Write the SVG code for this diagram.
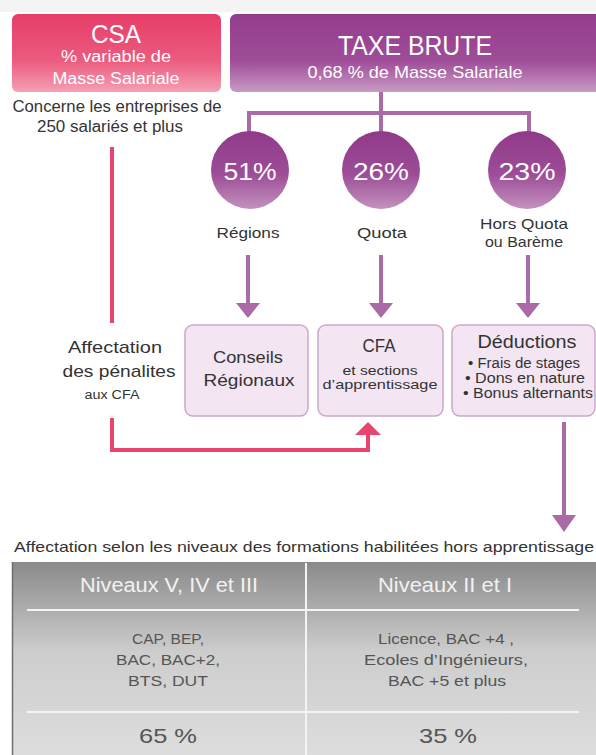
<svg xmlns="http://www.w3.org/2000/svg" width="596" height="755" viewBox="0 0 596 755">
<defs>
<linearGradient id="gCsa" x1="0" y1="0" x2="0" y2="1"><stop offset="0" stop-color="#e63d68"/><stop offset="0.6" stop-color="#ec5b7f"/><stop offset="1" stop-color="#f4a0b4"/></linearGradient>
<linearGradient id="gTaxe" x1="0" y1="0" x2="0" y2="1"><stop offset="0" stop-color="#943c8e"/><stop offset="0.6" stop-color="#9f4d98"/><stop offset="1" stop-color="#c89ac3"/></linearGradient>
<linearGradient id="gCirc" x1="0" y1="0" x2="0" y2="1"><stop offset="0" stop-color="#8f3a89"/><stop offset="0.55" stop-color="#9d4c97"/><stop offset="1" stop-color="#c392be"/></linearGradient>
<linearGradient id="gTable" x1="0" y1="0" x2="0" y2="1"><stop offset="0" stop-color="#8a8a8a"/><stop offset="0.45" stop-color="#cdcdcd"/><stop offset="1" stop-color="#dedede"/></linearGradient>
<marker id="arP" markerWidth="6" markerHeight="4" refX="3" refY="4" orient="auto" markerUnits="userSpaceOnUse"/>
</defs>
<style>
text{font-family:"Liberation Sans","Open Sans",Arial,sans-serif;text-anchor:middle}
.w{fill:#ffffff}
.d{fill:#333333}
.g{fill:#555555}
.box{fill:#f3e5f2;stroke:#cda8ca;stroke-width:1.5}
.lp{stroke:#a96aa6;stroke-width:4;fill:none}
.lr{stroke:#e8456f;stroke-width:4;fill:none}
.hp{fill:#a96aa6}
.hr{fill:#e8456f}
.wl{stroke:#f4f4f4;stroke-width:2}
</style>
<rect x="0" y="0" width="596" height="755" fill="#ffffff"/>
<rect x="0" y="0" width="596" height="12" fill="#f4f4f4"/>

<g id="csa">
<rect x="12" y="14" width="209" height="78" rx="6" fill="url(#gCsa)"/>
<text x="116" y="43" class="w" font-size="25" textLength="50" lengthAdjust="spacingAndGlyphs">CSA</text>
<text x="116" y="62" class="w" font-size="16" textLength="110" lengthAdjust="spacingAndGlyphs">% variable de</text>
<text x="116" y="84" class="w" font-size="16" textLength="127" lengthAdjust="spacingAndGlyphs">Masse Salariale</text>
</g>
<g id="csa-note">
<text x="117" y="112" class="d" font-size="16" textLength="209" lengthAdjust="spacingAndGlyphs">Concerne les entreprises de</text>
<text x="110" y="132" class="d" font-size="16" textLength="146" lengthAdjust="spacingAndGlyphs">250 salariés et plus</text>
</g>

<g id="taxe">
<rect x="230" y="14" width="372" height="78" rx="6" fill="url(#gTaxe)"/>
<text x="415" y="55" class="w" font-size="28" textLength="154" lengthAdjust="spacingAndGlyphs">TAXE BRUTE</text>
<text x="415" y="78" class="w" font-size="17" textLength="215" lengthAdjust="spacingAndGlyphs">0,68 % de Masse Salariale</text>
</g>

<g id="connectors">
<path class="lp" d="M381 92 V113 M249 113 H530 M249 111 V135 M381 113 V135 M529 111 V135"/>
<path class="lp" d="M248 255 V306 M381 255 V306 M528 255 V306"/>
<path class="hp" d="M236 303 H260 L248 318 Z M369 303 H393 L381 318 Z M516 303 H540 L528 318 Z"/>
<path class="lp" d="M564 422 V518"/>
<path class="hp" d="M552 515 H576 L564 532 Z"/>
<path class="lr" d="M112 147 V323 M112 418 V450 H368 V433"/>
<path class="hr" d="M355 435 H381 L368 422 Z"/>
</g>

<g id="c51">
<circle cx="250" cy="170" r="39" fill="url(#gCirc)"/>
<text x="250" y="180" class="w" font-size="24" textLength="53" lengthAdjust="spacingAndGlyphs">51%</text>
<text x="248" y="238" class="d" font-size="15" textLength="63" lengthAdjust="spacingAndGlyphs">Régions</text>
</g>
<g id="c26">
<circle cx="381" cy="170" r="39" fill="url(#gCirc)"/>
<text x="381" y="180" class="w" font-size="24" textLength="56" lengthAdjust="spacingAndGlyphs">26%</text>
<text x="382" y="238" class="d" font-size="15" textLength="50" lengthAdjust="spacingAndGlyphs">Quota</text>
</g>
<g id="c23">
<circle cx="527" cy="170" r="39" fill="url(#gCirc)"/>
<text x="527" y="180" class="w" font-size="24" textLength="57" lengthAdjust="spacingAndGlyphs">23%</text>
<text x="524" y="229" class="d" font-size="15" textLength="88" lengthAdjust="spacingAndGlyphs">Hors Quota</text>
<text x="524" y="247" class="d" font-size="15" textLength="78" lengthAdjust="spacingAndGlyphs">ou Barème</text>
</g>

<g id="penalites">
<text x="115" y="353" class="d" font-size="17" textLength="94" lengthAdjust="spacingAndGlyphs">Affectation</text>
<text x="119" y="377" class="d" font-size="17" textLength="113" lengthAdjust="spacingAndGlyphs">des pénalites</text>
<text x="112" y="399" class="d" font-size="12" textLength="55" lengthAdjust="spacingAndGlyphs">aux CFA</text>
</g>

<g id="conseils">
<rect x="185" y="325" width="123" height="91" rx="8" class="box"/>
<text x="248" y="363" class="d" font-size="17" textLength="70" lengthAdjust="spacingAndGlyphs">Conseils</text>
<text x="249" y="386" class="d" font-size="17" textLength="91" lengthAdjust="spacingAndGlyphs">Régionaux</text>
</g>
<g id="cfa">
<rect x="318" y="325" width="125" height="91" rx="8" class="box"/>
<text x="379" y="352" class="d" font-size="18" textLength="33" lengthAdjust="spacingAndGlyphs">CFA</text>
<text x="380" y="375" class="d" font-size="13" textLength="75" lengthAdjust="spacingAndGlyphs">et sections</text>
<text x="380" y="389" class="d" font-size="13" textLength="115" lengthAdjust="spacingAndGlyphs">d’apprentissage</text>
</g>
<g id="deductions">
<rect x="452" y="325" width="143" height="91" rx="8" class="box"/>
<text x="527" y="348" class="d" font-size="18" textLength="99" lengthAdjust="spacingAndGlyphs">Déductions</text>
<text x="524" y="368" class="d" font-size="14" textLength="112" lengthAdjust="spacingAndGlyphs">• Frais de stages</text>
<text x="525" y="383" class="d" font-size="14" textLength="120" lengthAdjust="spacingAndGlyphs">• Dons en nature</text>
<text x="528" y="398" class="d" font-size="14" textLength="130" lengthAdjust="spacingAndGlyphs">• Bonus alternants</text>
</g>

<g id="table">
<text x="304" y="552" class="d" font-size="15" textLength="580" lengthAdjust="spacingAndGlyphs">Affectation selon les niveaux des formations habilitées hors apprentissage</text>
<rect x="12" y="562" width="590" height="200" fill="url(#gTable)"/>
<line x1="12.5" y1="562" x2="12.5" y2="755" stroke="#6e6e6e" stroke-width="1.5"/>
<line x1="306" y1="563" x2="306" y2="755" class="wl"/>
<line x1="27" y1="610" x2="579" y2="610" class="wl"/>
<line x1="27" y1="712" x2="579" y2="712" class="wl"/>
<text x="169" y="592" fill="#f2f2f2" font-size="20" textLength="178" lengthAdjust="spacingAndGlyphs">Niveaux V, IV et III</text>
<text x="445" y="592" fill="#f2f2f2" font-size="20" textLength="134" lengthAdjust="spacingAndGlyphs">Niveaux II et I</text>
<text x="168" y="644" class="g" font-size="15" textLength="72" lengthAdjust="spacingAndGlyphs">CAP, BEP,</text>
<text x="168" y="665" class="g" font-size="15" textLength="104" lengthAdjust="spacingAndGlyphs">BAC, BAC+2,</text>
<text x="168" y="686" class="g" font-size="15" textLength="80" lengthAdjust="spacingAndGlyphs">BTS, DUT</text>
<text x="446" y="644" class="g" font-size="15" textLength="136" lengthAdjust="spacingAndGlyphs">Licence, BAC +4 ,</text>
<text x="446" y="665" class="g" font-size="15" textLength="164" lengthAdjust="spacingAndGlyphs">Ecoles d’Ingénieurs,</text>
<text x="447" y="686" class="g" font-size="15" textLength="118" lengthAdjust="spacingAndGlyphs">BAC +5  et plus</text>
<text x="168" y="743" class="g" font-size="21" textLength="58" lengthAdjust="spacingAndGlyphs">65 %</text>
<text x="448" y="743" class="g" font-size="21" textLength="58" lengthAdjust="spacingAndGlyphs">35 %</text>
</g>
</svg>
